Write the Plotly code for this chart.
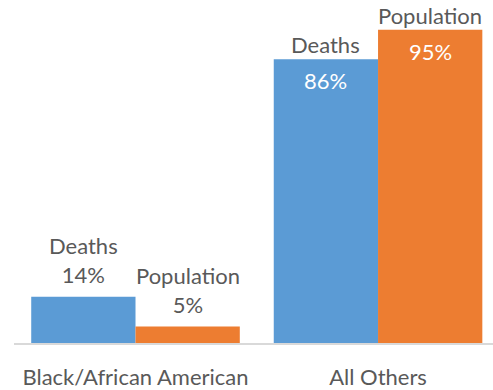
import plotly.graph_objects as go

categories = ["Black/African American", "All Others"]
series_names = ["Deaths", "Population"]
deaths = [14, 86]
population = [5, 95]
colors = ["#5B9BD5", "#ED7D31"]

cat_pos = [0, 1]
bar_w = 0.43
offsets = [-bar_w / 2, bar_w / 2]
FONT = "Lato"
GRAY = "#595959"

fig = go.Figure()
annotations = []
for si, (name, vals) in enumerate(zip(series_names, [deaths, population])):
    xs = [c + offsets[si] for c in cat_pos]
    fig.add_trace(go.Bar(x=xs, y=vals, width=bar_w, name=name,
                         marker=dict(color=colors[si], line=dict(width=0)),
                         showlegend=False, hoverinfo="skip"))
    for x, v in zip(xs, vals):
        if v < 50:
            annotations.append(dict(x=x, y=v, xref="x", yref="y", text=f"{name}<br>{v}%",
                                    showarrow=False, yanchor="bottom", yshift=7,
                                    font=dict(family=FONT, size=22, color=GRAY)))
        else:
            annotations.append(dict(x=x, y=v, xref="x", yref="y", text=name,
                                    showarrow=False, yanchor="bottom", yshift=-1,
                                    font=dict(family=FONT, size=22, color=GRAY)))
            annotations.append(dict(x=x, y=v, xref="x", yref="y", text=f"{v}%",
                                    showarrow=False, yanchor="top", yshift=-6,
                                    font=dict(family=FONT, size=22, color="white")))

fig.update_layout(
    width=493, height=390,
    margin=dict(l=14, r=0, t=0, b=41),
    paper_bgcolor="white", plot_bgcolor="white",
    barmode="overlay",
    annotations=annotations,
    xaxis=dict(range=[-0.501, 1.474], tickvals=cat_pos, ticktext=categories,
               showline=True, linecolor="#D9D9D9", linewidth=2, showgrid=False,
               zeroline=False, ticks="", ticklabelstandoff=14,
               tickfont=dict(family=FONT, size=22, color=GRAY)),
    yaxis=dict(range=[0, 104], visible=False, showgrid=False, zeroline=False),
)
fig.write_html("out.html")
